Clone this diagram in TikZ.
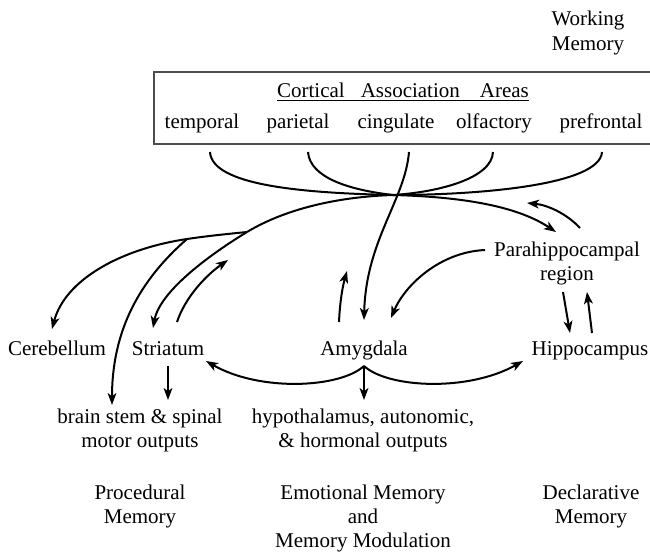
\documentclass[tikz,border=0pt]{standalone}
\usepackage{fontspec}
\setmainfont{Liberation Serif}
\usetikzlibrary{arrows.meta}
\begin{document}
\begin{tikzpicture}[x=0.5pt,y=-0.5pt,
  lbl/.style={font=\fontsize{10.5}{12}\selectfont, inner sep=0pt, anchor=base},
  con/.style={line width=1pt},
  arr/.style={con,-{Stealth[length=6pt,width=4.4pt,inset=1.6pt]}},
  boxline/.style={line width=1pt, draw=black!70}]
\useasboundingbox (0,0) rectangle (650,554);
% top labels
\node[lbl] (work1) at (588,25) {Working};
\node[lbl] (work2) at (588,50) {Memory};
\draw[boxline] (651,72) -| (154,144) -- (651,144);
\node[lbl] (caa) at (403,97) {\underline{Cortical\hspace{8pt}Association\hspace{10pt}Areas}};
\node[lbl] (temp) at (202,128) {temporal};
\node[lbl] (pari) at (298,128) {parietal};
\node[lbl] (cing) at (396,128) {cingulate};
\node[lbl] (olf)  at (494,128) {olfactory};
\node[lbl] (pref) at (601,128) {prefrontal};
% middle labels
\node[lbl] (para1) at (567,256) {Parahippocampal};
\node[lbl] (para2) at (567,280) {region};
\node[lbl] (cere) at (57,355) {Cerebellum};
\node[lbl] (stri) at (168,355) {Striatum};
\node[lbl] (amyg) at (364,355) {Amygdala};
\node[lbl] (hipp) at (590,355) {Hippocampus};
% bottom labels
\node[lbl] (bs1) at (140,423) {brain stem \& spinal};
\node[lbl] (bs2) at (140,447) {motor outputs};
\node[lbl] (hy1) at (363,423) {hypothalamus, autonomic,};
\node[lbl] (hy2) at (363,447) {\& hormonal outputs};
\node[lbl] (pm1) at (140,499) {Procedural};
\node[lbl] (pm2) at (140,523) {Memory};
\node[lbl] (em1) at (363,499) {Emotional Memory};
\node[lbl] (em2) at (363,523) {and};
\node[lbl] (em3) at (363,547) {Memory Modulation};
\node[lbl] (dm1) at (591,499) {Declarative};
\node[lbl] (dm2) at (591,523) {Memory};
% coordinates
\coordinate (tS) at (210,152);
\coordinate (pS) at (308,152);
\coordinate (cS) at (409,152);
\coordinate (oS) at (493,152);
\coordinate (fS) at (602,152);
\coordinate (C)  at (393,195);
\coordinate (B1) at (247,232);
\coordinate (B2) at (187,239);
\coordinate (phT) at (556,232);
\coordinate (stT) at (153,328);
\coordinate (ceT) at (52,329);
\coordinate (bsT) at (112,405);
\coordinate (amT) at (364,320);
\coordinate (F) at (364,366);
% cortical curves
\draw[con] (tS) .. controls (212,185) and (300,193) .. (C);
\draw[con] (pS) .. controls (310,178) and (350,190) .. (C);
\draw[con] (oS) .. controls (492,178) and (440,192) .. (C);
\draw[con] (fS) .. controls (600,185) and (480,195) .. (C);
\draw[arr] (C) .. controls (470,197) and (520,208) .. (phT);
\draw[arr] (cS) .. controls (405,200) and (366,240) .. (amT);
% lower-left bundle
\draw[con] (C) .. controls (330,197) and (280,212) .. (B1);
\draw[arr] (B1) .. controls (214,252) and (160,290) .. (stT);
\draw[con] (B1) .. controls (227,234) and (207,236) .. (B2);
\draw[arr] (B2) .. controls (120,249) and (65,280) .. (ceT);
\draw[arr] (B2) .. controls (140,280) and (112,330) .. (bsT);
% striatum up
\coordinate (suS) at (177,322);
\coordinate (suT) at (228,260);
\draw[arr] (suS) .. controls (185,298) and (205,276) .. (suT);
% amygdala up
\coordinate (auS) at (339,322);
\coordinate (auT) at (347,271);
\draw[arr] (auS) .. controls (340,300) and (343,285) .. (auT);
% parahippocampal to amygdala
\coordinate (paS) at (485,250);
\coordinate (paT) at (391,318);
\draw[arr] (paS) .. controls (440,252) and (405,285) .. (paT);
% parahippocampal up to bundle
\coordinate (puS) at (580,228);
\coordinate (puT) at (527,203);
\draw[arr] (puS) .. controls (567,214) and (548,205) .. (puT);
% parahippocampal <-> hippocampus
\coordinate (phdS) at (563,292);
\coordinate (phdT) at (570,333);
\coordinate (hpuS) at (592,333);
\coordinate (hpuT) at (587,292);
\draw[arr] (phdS) -- (phdT);
\draw[arr] (hpuS) -- (hpuT);
% amygdala fork
\coordinate (alT) at (206,361);
\coordinate (arT) at (523,361);
\coordinate (adT) at (364,400);
\draw[arr] (F) .. controls (340,388) and (260,392) .. (alT);
\draw[arr] (F) .. controls (388,388) and (468,392) .. (arT);
\draw[arr] (F) -- (adT);
% striatum down
\coordinate (sdS) at (168,366);
\coordinate (sdT) at (168,400);
\draw[arr] (sdS) -- (sdT);
\end{tikzpicture}
\end{document}
